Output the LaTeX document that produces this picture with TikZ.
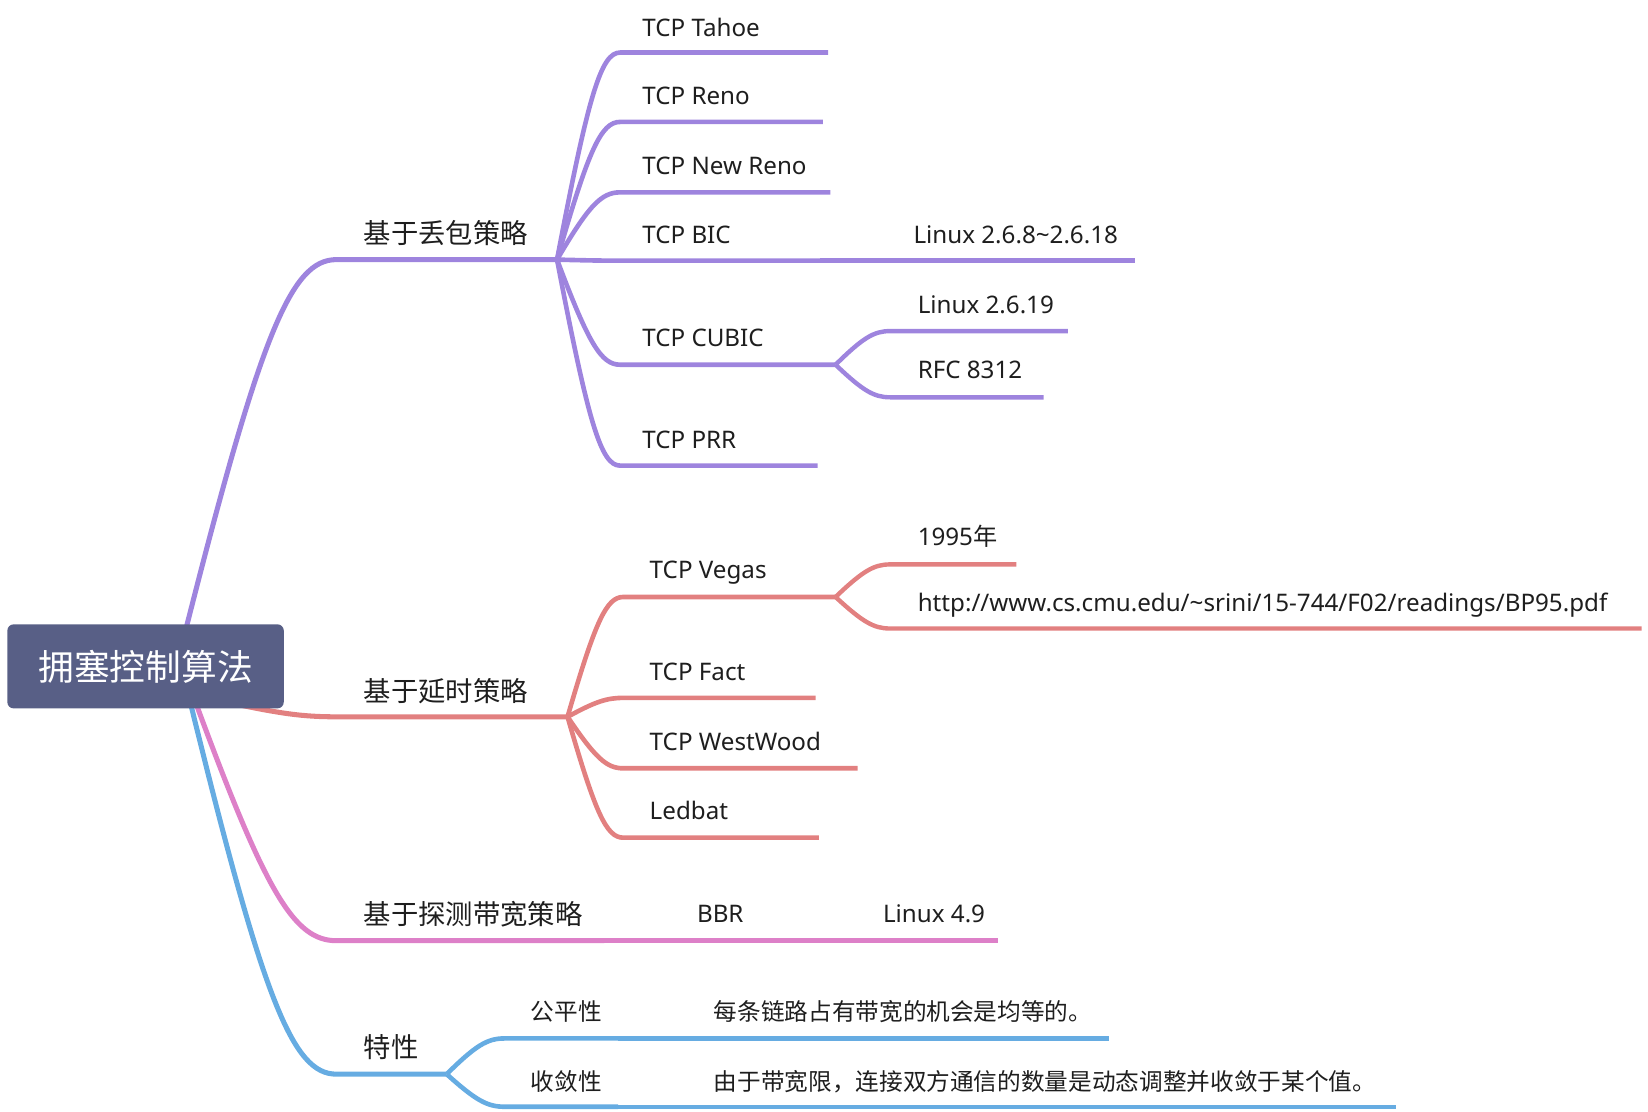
\documentclass[tikz,border=0pt]{standalone}
\usepackage{fontspec}
\setmainfont{Noto Sans}
\newfontfamily\cjk{Noto Sans CJK SC}
\usetikzlibrary{calc,backgrounds}
\definecolor{cpurple}{RGB}{158,132,222}
\definecolor{cred}{RGB}{226,128,128}
\definecolor{cpink}{RGB}{221,128,200}
\definecolor{cblue}{RGB}{102,172,226}
\definecolor{croot}{RGB}{88,95,134}
\definecolor{ctext}{RGB}{30,30,30}
\begin{document}
\begin{tikzpicture}[x=1pt,y=-1pt,
  curv/.style={to path={let \p1=(\tikztostart), \p2=(\tikztotarget) in
     .. controls ({\x1+0.5*(\x2-\x1)},{\y1+0.8*(\y2-\y1)}) and ({\x2-0.3*(\x2-\x1)},{\y2}) .. (\tikztotarget)}},
  lvtwo/.style={font=\cjk\fontsize{26}{30}\selectfont, text=ctext, anchor=base west, inner sep=0pt},
  lvlat/.style={font=\fontsize{23}{27}\selectfont, text=ctext, anchor=base west, inner sep=0pt},
  lvcjk/.style={font=\cjk\fontsize{22.5}{27}\selectfont, text=ctext, anchor=base west, inner sep=0pt},
  mainline/.style={line width=4.8pt},
  subline/.style={line width=4.4pt},
  leafline/.style={line width=4.2pt},
]
\useasboundingbox (0,0) rectangle (1568,1058);

% root
\node[fill=croot, rounded corners=6pt, minimum width=263pt, minimum height=80pt, inner sep=0pt,
      text=white, font=\cjk\fontsize{34}{40}\selectfont] (root) at (138.5,634) {拥塞控制算法};

% connector anchors
\coordinate (rp) at (176,602);
\coordinate (rr) at (215,668);
\coordinate (rk) at (186,668);
\coordinate (rb) at (181,668);

\coordinate (a1) at (320,247); \coordinate (a1e) at (530,247);
\coordinate (a2) at (320,682); \coordinate (a2e) at (540,682);
\coordinate (a3) at (320,895); \coordinate (a3e) at (575,895);
\coordinate (a4) at (320,1022); \coordinate (a4e) at (425,1022);

\coordinate (b1) at (590,50);  \coordinate (b1e) at (788,50);
\coordinate (b2) at (590,116); \coordinate (b2e) at (783,116);
\coordinate (b3) at (590,183); \coordinate (b3e) at (790,183);
\coordinate (b4) at (590,248); \coordinate (b4e) at (780,248);
\coordinate (b5) at (590,347); \coordinate (b5e) at (795,347);
\coordinate (b6) at (590,443); \coordinate (b6e) at (778,443);
\coordinate (c4e) at (1080,248);
\coordinate (c51) at (847,315); \coordinate (c51e) at (1016,315);
\coordinate (c52) at (847,378); \coordinate (c52e) at (993,378);

\coordinate (d1) at (593,568); \coordinate (d1e) at (795,568);
\coordinate (d2) at (593,664); \coordinate (d2e) at (776,664);
\coordinate (d3) at (593,731); \coordinate (d3e) at (816,731);
\coordinate (d4) at (593,797); \coordinate (d4e) at (779,797);
\coordinate (e11) at (847,537); \coordinate (e11e) at (967,537);
\coordinate (e12) at (847,598); \coordinate (e12e) at (1562,598);

\coordinate (f1e) at (750,895); \coordinate (g1e) at (950,895);

\coordinate (h1) at (480,988); \coordinate (h1e) at (588,988);
\coordinate (h2) at (480,1053); \coordinate (h2e) at (588,1053);
\coordinate (k1e) at (1055,988); \coordinate (k2e) at (1328,1053);

\begin{pgfonlayer}{background}
% purple branch
\draw[cpurple, mainline] (rp) to[curv] (a1) -- (a1e);
\draw[cpurple, subline] (a1e) to[curv] (b1) -- (b1e);
\draw[cpurple, subline] (a1e) to[curv] (b2) -- (b2e);
\draw[cpurple, subline] (a1e) to[curv] (b3) -- (b3e);
\draw[cpurple, subline] (a1e) to[curv] (b4) -- (b4e);
\draw[cpurple, leafline] (b4e) -- (c4e);
\draw[cpurple, subline] (a1e) to[curv] (b5) -- (b5e);
\draw[cpurple, subline] (a1e) to[curv] (b6) -- (b6e);
\draw[cpurple, leafline] (b5e) to[curv] (c51) -- (c51e);
\draw[cpurple, leafline] (b5e) to[curv] (c52) -- (c52e);
% red branch
\draw[cred, mainline] (rr) to[curv] (a2) -- (a2e);
\draw[cred, subline] (a2e) to[curv] (d1) -- (d1e);
\draw[cred, subline] (a2e) to[curv] (d2) -- (d2e);
\draw[cred, subline] (a2e) to[curv] (d3) -- (d3e);
\draw[cred, subline] (a2e) to[curv] (d4) -- (d4e);
\draw[cred, leafline] (d1e) to[curv] (e11) -- (e11e);
\draw[cred, leafline] (d1e) to[curv] (e12) -- (e12e);
% pink branch
\draw[cpink, mainline] (rk) to[curv] (a3) -- (a3e);
\draw[cpink, subline] (a3e) -- (f1e);
\draw[cpink, leafline] (f1e) -- (g1e);
% blue branch
\draw[cblue, mainline] (rb) to[curv] (a4) -- (a4e);
\draw[cblue, subline] (a4e) to[curv] (h1) -- (h1e);
\draw[cblue, subline] (a4e) to[curv] (h2) -- (h2e);
\draw[cblue, leafline] (h1e) -- (k1e);
\draw[cblue, leafline] (h2e) -- (k2e);
\end{pgfonlayer}

% level 2 texts
\node[lvtwo] (t1) at (346,232) {基于丢包策略};
\node[lvtwo] (t2) at (346,667) {基于延时策略};
\node[lvtwo] (t3) at (346,880) {基于探测带宽策略};
\node[lvtwo] (t4) at (346,1006) {特性};

% level 3 texts
\node[lvlat] (u1) at (611,34.4) {TCP Tahoe};
\node[lvlat] (u2) at (611,99.4) {TCP Reno};
\node[lvlat] (u3) at (611,166.4) {TCP New Reno};
\node[lvlat] (u4) at (611,231.4) {TCP BIC};
\node[lvlat] (u5) at (611,329.4) {TCP CUBIC};
\node[lvlat] (u6) at (611,426.4) {TCP PRR};
\node[lvlat] (v1) at (618,550.4) {TCP Vegas};
\node[lvlat] (v2) at (618,647.4) {TCP Fact};
\node[lvlat] (v3) at (618,714.4) {TCP WestWood};
\node[lvlat] (v4) at (618,779.4) {Ledbat};
\node[lvlat] (w1) at (663,877.4) {BBR};
\node[lvcjk] (x1) at (505,971.4) {公平性};
\node[lvcjk] (x2) at (505,1037.4) {收敛性};

% level 4 texts
\node[lvlat] (y1) at (869,231.4) {Linux 2.6.8\char"7E 2.6.18};
\node[lvlat] (y2) at (873,298.4) {Linux 2.6.19};
\node[lvlat] (y3) at (873,360.4) {RFC 8312};
\node[lvlat] (y4) at (873,519.4) {1995{\cjk 年}};
\node[lvlat] (y5) at (873,581.4) {http://www.cs.cmu.edu/\char"7E srini/15-744/F02/readings/BP95.pdf};
\node[lvlat] (y6) at (840,877.4) {Linux 4.9};
\node[lvcjk] (y7) at (679,971.4) {每条链路占有带宽的机会是均等的。};
\node[lvcjk] (y8) at (679,1037.4) {由于带宽限，连接双方通信的数量是动态调整并收敛于某个值。};
\end{tikzpicture}
\end{document}
